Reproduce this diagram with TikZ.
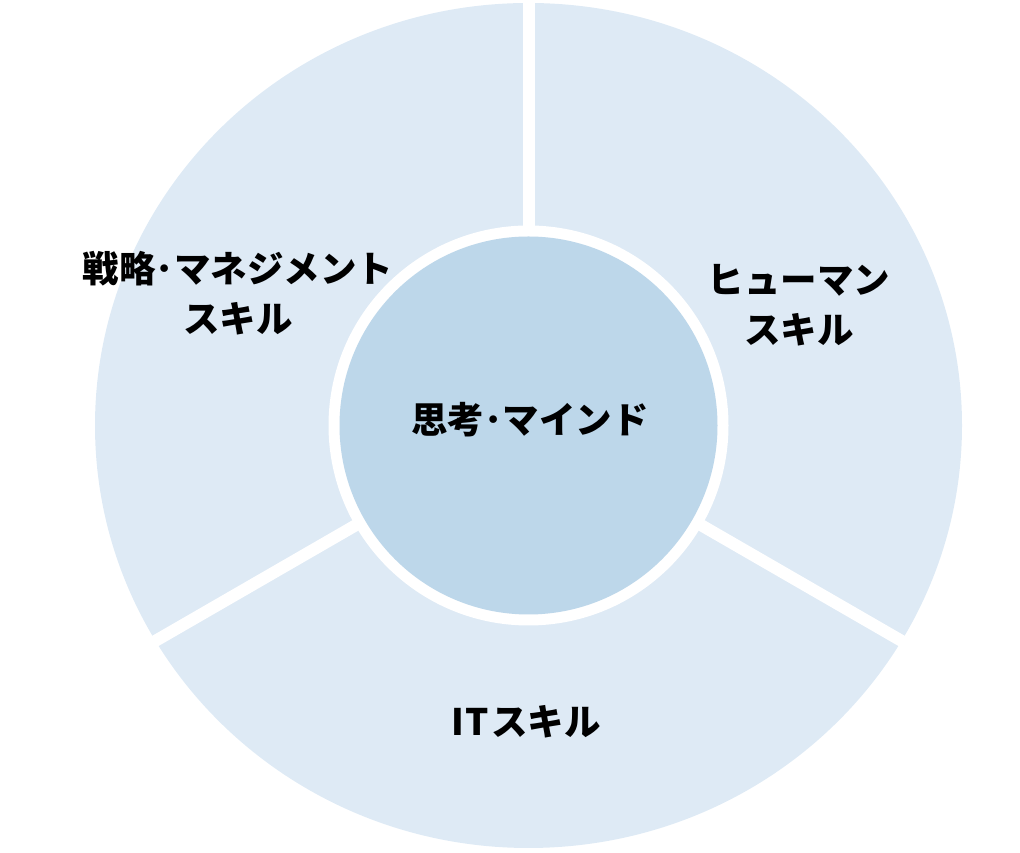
\documentclass[tikz,border=0pt]{standalone}
\usepackage{fontspec}
\newfontfamily\cjk{Noto Sans CJK JP}
\definecolor{ringblue}{HTML}{DEEAF5}
\definecolor{coreblue}{HTML}{BDD7EA}
\begin{document}
\begin{tikzpicture}
[x=1pt,y=1pt, t/.style={font=\cjk\bfseries\fontsize{36.5}{50}\selectfont,align=center,text=black,inner sep=0pt},
gap/.style={draw=white,line width=12pt}]
\useasboundingbox (0,0) rectangle (1020,853);
\coordinate (o) at (528.5,427.5);
\fill[ringblue] (o) ellipse [x radius=433.5,y radius=422.5];
\draw[gap] (o)--++(90:440);\draw[gap] (o)--++(-30:460);\draw[gap] (o)--++(210:460);
\fill[white] (o) circle (200);\fill[coreblue] (o) circle (189);
\node(strat) at (238,560)[t]{戦略･マネジメント\\スキル};
\node(human) at (799,548)[t]{ヒューマン\\スキル};
\node(mind) at (530,433)[t]{思考･マインド};
\node(it) at (526,131)[t]{I\kern1.5ptT\kern2ptスキル};
\end{tikzpicture}
\end{document}
